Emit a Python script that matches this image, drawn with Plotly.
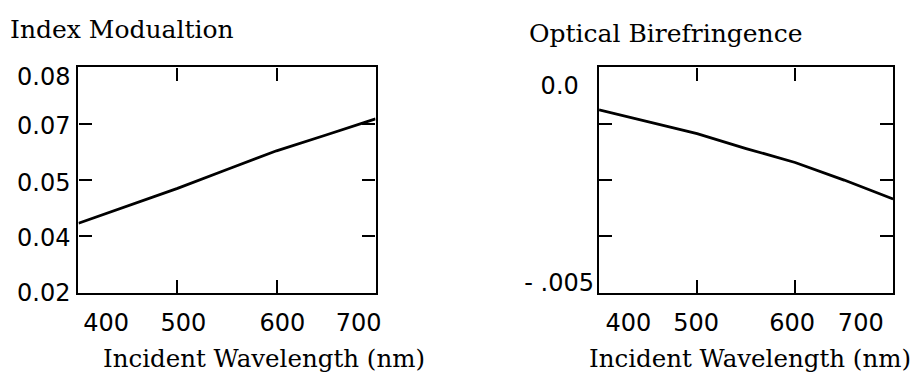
import plotly.graph_objects as go

# ---- data ----
wavelength = [400, 450, 500, 550, 600, 650, 700]
index_modulation = [0.0385, 0.0431, 0.0478, 0.0528, 0.0578, 0.0620, 0.0663]
birefringence = [-0.00094, -0.00121, -0.00147, -0.00180, -0.00211, -0.00250, -0.00292]

# tick marks (inside the frame)
x_tick_marks = [500, 600]
y1_tick_marks = [0.035, 0.05, 0.065]
y2_tick_marks = [-0.00375, -0.0025, -0.00125]

# tick labels (as printed, at their printed positions)
x1_label_pos = [428, 506, 606, 683]
x2_label_pos = [430, 499, 597, 667]
x_label_text = ["400", "500", "600", "700"]
y1_label_pos = [0.0201, 0.0347, 0.0492, 0.0645, 0.0776]
y1_label_text = ["0.02", "0.04", "0.05", "0.07", "0.08"]
y2_label_pos = [-0.00478, -0.000395]
y2_label_text = ["- .005", "0.0\u00a0\u00a0"]

W, H = 917, 370  # effective drawing height seen in the rendered picture
TICKFONT = dict(family="'DejaVu Sans', sans-serif", size=24, color="black")
TITLEFONT = dict(family="'DejaVu Serif', serif", size=25, color="black")
AXTITLEFONT = dict(family="'DejaVu Serif', serif", size=24.5, color="black")

def px_x(p):
    return p / W

def px_y(p):
    return 1 - p / H

dom_y = [px_y(291), px_y(64)]
dom_x1 = [px_x(79), px_x(378)]
dom_x2 = [px_x(603), px_x(899)]

fig = go.Figure()
line = dict(color="black", width=2.8)
fig.add_trace(go.Scatter(x=wavelength, y=index_modulation, mode="lines", line=line,
                         xaxis="x", yaxis="y", showlegend=False))
fig.add_trace(go.Scatter(x=wavelength, y=birefringence, mode="lines", line=line,
                         xaxis="x2", yaxis="y2", showlegend=False))
# invisible copies on the label axes
fig.add_trace(go.Scatter(x=wavelength, y=index_modulation, mode="lines", opacity=0,
                         hoverinfo="skip", xaxis="x3", yaxis="y3", showlegend=False))
fig.add_trace(go.Scatter(x=wavelength, y=birefringence, mode="lines", opacity=0,
                         hoverinfo="skip", xaxis="x4", yaxis="y4", showlegend=False))

frame = dict(showline=True, linecolor="black", linewidth=2.2, mirror="ticks",
             ticks="inside", ticklen=13, tickwidth=2.2, tickcolor="black",
             showticklabels=False, showgrid=False, zeroline=False, tickmode="array")
labels = dict(showline=False, ticks="", showgrid=False, zeroline=False,
              tickmode="array", tickfont=TICKFONT)

fig.update_layout(
    autosize=True,
    margin=dict(l=0, r=0, t=0, b=0),
    paper_bgcolor="white", plot_bgcolor="rgba(0,0,0,0)",
    xaxis=dict(domain=dom_x1, range=[400, 700], anchor="y", tickvals=x_tick_marks, **frame),
    yaxis=dict(domain=dom_y, range=[0.02, 0.08], anchor="x", tickvals=y1_tick_marks, **frame),
    xaxis2=dict(domain=dom_x2, range=[400, 700], anchor="y2", tickvals=x_tick_marks, **frame),
    yaxis2=dict(domain=dom_y, range=[-0.005, 0.0], anchor="x2", tickvals=y2_tick_marks, **frame),
    xaxis3=dict(domain=dom_x1, range=[400, 700], anchor="y3", overlaying="x",
                tickvals=x1_label_pos, ticktext=x_label_text, ticklabelstandoff=13, **labels),
    yaxis3=dict(domain=dom_y, range=[0.02, 0.08], anchor="x3", overlaying="y",
                tickvals=y1_label_pos, ticktext=y1_label_text, ticklabelstandoff=7, **labels),
    xaxis4=dict(domain=dom_x2, range=[400, 700], anchor="y4", overlaying="x2",
                tickvals=x2_label_pos, ticktext=x_label_text, ticklabelstandoff=13, **labels),
    yaxis4=dict(domain=dom_y, range=[-0.005, 0.0], anchor="x4", overlaying="y2",
                tickvals=y2_label_pos, ticktext=y2_label_text, ticklabelstandoff=4, **labels),
)

annotations = [
    dict(text="Index Modualtion", x=px_x(9), y=px_y(26), font=TITLEFONT),
    dict(text="Optical Birefringence", x=px_x(531), y=px_y(30), font=TITLEFONT),
    dict(text="Incident Wavelength (nm)", x=px_x(103), y=px_y(357), font=AXTITLEFONT),
    dict(text="Incident Wavelength (nm)", x=px_x(592), y=px_y(357), font=AXTITLEFONT),
]
for a in annotations:
    fig.add_annotation(xref="paper", yref="paper", showarrow=False, xanchor="left",
                       yanchor="middle", borderpad=0, **a)

fig.write_html("out.html", config={"displayModeBar": False},
               default_width="100vw", default_height="100vh",
               post_script="document.documentElement.style.margin='0';"
                           "document.body.style.margin='0';"
                           "document.documentElement.style.overflow='hidden';"
                           "document.body.style.overflow='hidden';")
